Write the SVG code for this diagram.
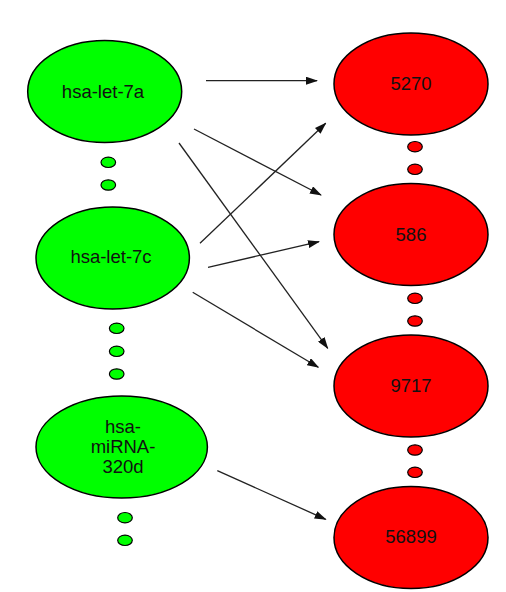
<svg xmlns="http://www.w3.org/2000/svg" width="506" height="592" viewBox="0 0 506 592">
<style>
.g{fill:#00ff00;stroke:#000;stroke-width:1.5}
.r{fill:#ff0000;stroke:#000;stroke-width:1.5}
.d{stroke:#000;stroke-width:1.2}
.t{font-family:"Liberation Sans",Arial,sans-serif;font-size:18.5px;fill:#111;text-anchor:middle}
.e{stroke:#222;stroke-width:1.3;fill:none;marker-end:url(#ah)}
</style>
<defs>
<marker id="ah" markerWidth="12" markerHeight="8" refX="11" refY="4" orient="auto" markerUnits="userSpaceOnUse">
<path d="M0,0 L12,4 L0,8 Z" fill="#111"/>
</marker>
</defs>
<rect width="506" height="592" fill="#fff"/>
<g id="connectors">
<line class="e" x1="206" y1="80.7" x2="317" y2="80.7"/>
<line class="e" x1="194" y1="129" x2="321" y2="195"/>
<line class="e" x1="179" y1="143" x2="327.7" y2="348.3"/>
<line class="e" x1="200" y1="243.3" x2="325.7" y2="123.3"/>
<line class="e" x1="208" y1="267.3" x2="319" y2="241.7"/>
<line class="e" x1="192.7" y1="292.3" x2="318.3" y2="367.3"/>
<line class="e" x1="217.3" y1="470.7" x2="325.7" y2="519.3"/>
</g>
<g id="hsa-let-7a"><ellipse class="g" cx="104.7" cy="91.5" rx="77" ry="51"/><text class="t" x="103" y="97.7">hsa-let-7a</text></g>
<g id="hsa-let-7c"><ellipse class="g" cx="112.7" cy="258" rx="76.7" ry="51"/><text class="t" x="111" y="263.3">hsa-let-7c</text></g>
<g id="hsa-miRNA-320d"><ellipse class="g" cx="121.7" cy="447" rx="85.7" ry="51"/><text class="t" x="123" y="432.7">hsa-</text><text class="t" x="123" y="452.7">miRNA-</text><text class="t" x="123" y="472.7">320d</text></g>
<g id="n5270"><ellipse class="r" cx="411" cy="84" rx="77" ry="51"/><text class="t" x="411" y="90">5270</text></g>
<g id="n586"><ellipse class="r" cx="411" cy="234.5" rx="77" ry="51"/><text class="t" x="411" y="240.7">586</text></g>
<g id="n9717"><ellipse class="r" cx="411" cy="386" rx="77" ry="51"/><text class="t" x="411" y="391.7">9717</text></g>
<g id="n56899"><ellipse class="r" cx="411" cy="537.5" rx="77" ry="51"/><text class="t" x="411" y="543.3">56899</text></g>
<g id="dots">
<ellipse class="d" fill="#00ff00" cx="108.3" cy="162.3" rx="7.3" ry="5.2"/>
<ellipse class="d" fill="#00ff00" cx="108.3" cy="185" rx="7.3" ry="5.2"/>
<ellipse class="d" fill="#00ff00" cx="116.7" cy="328.3" rx="7.3" ry="5.2"/>
<ellipse class="d" fill="#00ff00" cx="116.7" cy="351.3" rx="7.3" ry="5.2"/>
<ellipse class="d" fill="#00ff00" cx="116.7" cy="374" rx="7.3" ry="5.2"/>
<ellipse class="d" fill="#00ff00" cx="125" cy="517.7" rx="7.3" ry="5.2"/>
<ellipse class="d" fill="#00ff00" cx="125" cy="540.3" rx="7.3" ry="5.2"/>
<ellipse class="d" fill="#ff0000" cx="415" cy="146.7" rx="7.3" ry="5.2"/>
<ellipse class="d" fill="#ff0000" cx="415" cy="169.3" rx="7.3" ry="5.2"/>
<ellipse class="d" fill="#ff0000" cx="415" cy="298.3" rx="7.3" ry="5.2"/>
<ellipse class="d" fill="#ff0000" cx="415" cy="321" rx="7.3" ry="5.2"/>
<ellipse class="d" fill="#ff0000" cx="415" cy="450" rx="7.3" ry="5.2"/>
<ellipse class="d" fill="#ff0000" cx="415" cy="472.3" rx="7.3" ry="5.2"/>
</g>
</svg>
